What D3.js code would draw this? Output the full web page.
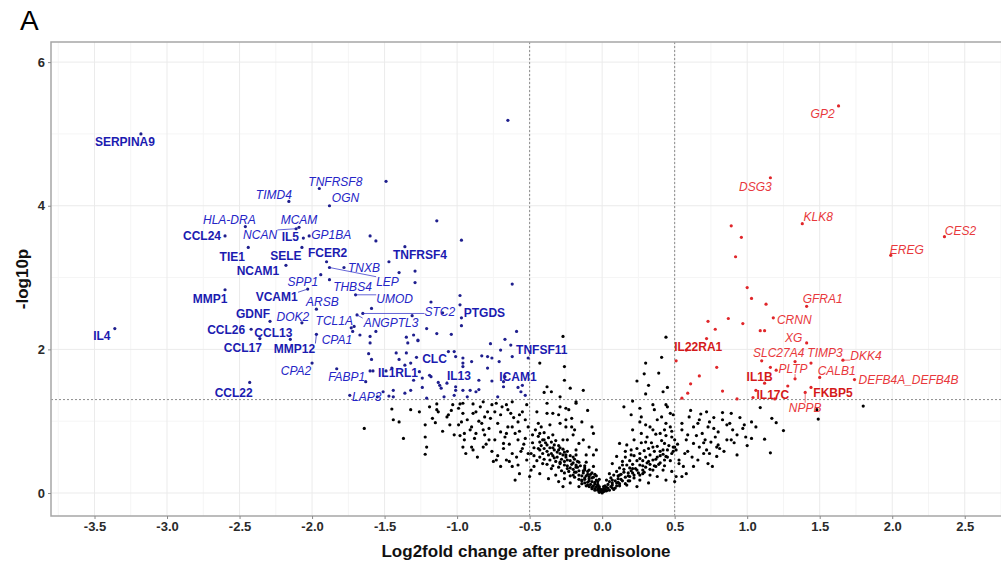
<!DOCTYPE html>
<html lang="en">
<head>
  <meta charset="UTF-8">
  <title>Volcano plot</title>
  <script src="https://d3js.org/d3.v7.min.js"></script>
  <style>
    html, body {
      margin: 0;
      padding: 0;
      background: #fff;
    }
    body {
      font-family: "Liberation Sans", Arial, sans-serif;
    }
    svg { display: block; }
    .grid-major line { stroke: #ebebeb; stroke-width: 1; }
    .grid-minor line { stroke: #f5f5f5; stroke-width: 1; }
    .axis path { display: none; }
    .axis line { stroke: #8a8a8a; }
    .axis text {
      font: bold 13px "Liberation Sans", Arial, sans-serif;
      fill: #2a2a2a;
    }
    .thresh {
      stroke: #8c8c8c;
      stroke-width: 1;
      stroke-dasharray: 2,2;
      fill: none;
    }
    .gene-label { font-size: 12px; }
    .title { font: bold 17px "Liberation Sans", Arial, sans-serif; fill: #111; }
  </style>
</head>
<body>
  <svg id="chart" width="1001" height="567"></svg>
  <script>
    // Labelled down-regulated genes (blue)
    const downGenes = ["SERPINA9","TNFRSF8","TIMD4","OGN","HLA-DRA","MCAM","NCAN","CCL24","IL5","GP1BA",
      "TIE1","SELE","FCER2","TNXB","LEP","TNFRSF4","NCAM1","SPP1","THBS4","VCAM1",
      "ARSB","UMOD","MMP1","IL4","GDNF","DOK2","TCL1A","ANGPTL3","STC2","CCL26",
      "CCL13","CCL17","MMP12","CPA1","CPA2","CCL22","FABP1","IL1RL1","LAP3","CLC",
      "IL13","PTGDS","ICAM1","TNFSF11"];
    const downFC = [-3.18,-1.95,-2.16,-1.88,-2.46,-2.09,-2.11,-2.60,-2.06,-2.02,
      -2.44,-2.07,-1.90,-1.78,-1.88,-1.47,-2.18,-1.94,-1.88,-2.03,
      -1.97,-1.70,-2.60,-3.36,-2.29,-2.07,-1.73,-1.69,-1.65,-2.42,
      -2.15,-2.36,-1.97,-1.67,-2.00,-2.43,-1.83,-1.58,-1.74,-1.28,
      -1.07,-0.97,-0.76,-0.63];
    const downLogP = [5.00,4.24,4.06,4.00,3.71,3.70,3.68,3.58,3.55,3.58,
      3.42,3.42,3.22,3.14,3.14,3.22,3.17,3.04,2.97,2.84,
      2.56,2.76,2.83,2.29,2.39,2.37,2.30,2.48,2.50,2.28,
      2.14,2.15,2.21,2.20,1.81,1.54,1.73,1.70,1.36,1.89,
      1.53,2.44,1.56,2.06];

    // Labelled up-regulated genes (red)
    const upGenes = ["GP2","DSG3","KLK8","CES2","EREG","GFRA1","CRNN","XG","SLC27A4","TIMP3",
      "DKK4","PLTP","CALB1","DEFB4A_DEFB4B","IL1B","IL17C","FKBP5","NPPB","IL22RA1"];
    const upFC = [1.63,1.16,1.38,2.36,1.99,1.41,1.18,1.41,1.10,1.44,
      1.66,1.33,1.50,1.74,1.12,1.06,1.44,1.40,0.58];
    const upLogP = [5.39,4.39,3.75,3.57,3.31,2.60,2.44,2.09,1.84,1.81,
      1.85,1.59,1.61,1.58,1.53,1.43,1.47,1.40,1.99];

    // Unlabelled significant genes, [log2fc, -log10p]
    const downOther = [
      [-0.65,5.19],[-1.49,4.34],[-1.14,3.79],[-0.97,3.52],[-1.60,3.58],[-1.56,3.51],[-1.36,3.43],
      [-1.40,3.07],[-1.29,3.09],[-1.29,2.93],[-0.62,2.91],[-0.98,2.75],[-0.98,2.62],[-0.97,2.33],
      [-1.10,2.51],[-1.18,2.66],[-1.31,2.47],[-1.21,2.29],[-1.56,2.25],[-1.60,2.18],[-1.60,2.09],
      [-1.35,2.17],[-1.34,2.09],[-1.27,2.12],[-1.14,2.22],[-1.04,2.21],[-0.77,2.08],[-0.67,2.14],
      [-0.59,2.25],[-0.70,1.99],[-0.83,1.91],[-0.79,1.90],[-0.71,1.83],[-0.96,1.88],[-0.96,1.81],
      [-1.06,1.97],[-1.02,1.97],[-1.61,1.94],[-1.59,1.86],[-1.42,1.95],[-1.40,1.86],[-1.35,1.95],
      [-1.60,1.70],[-1.45,1.74],[-1.30,1.57],[-1.18,1.62],[-1.13,1.54],[-1.01,1.43],[-0.91,1.43],
      [-0.85,1.44],[-0.85,1.57],[-0.67,1.62],[-0.58,1.47],[-0.55,1.50],[-1.55,1.34],[-1.47,1.35],
      [-1.24,1.47],[-1.63,1.55],[-1.49,1.70],[-1.59,2.57],[-1.71,2.32],[-1.72,2.25],[-1.30,2.20],
      [-1.27,2.13],[-0.62,1.90],[-1.36,1.78],[-1.32,1.81],[-1.01,1.90],[-0.96,1.76],[-0.90,1.83],
      [-0.76,1.88],[-0.79,1.74],[-1.26,1.69],[-1.24,1.60],[-1.19,1.64],[-1.12,1.50],[-1.11,1.46],
      [-1.01,1.48],[-0.96,1.43],[-1.36,1.39],[-1.32,1.43],[-1.21,1.32],[-1.09,1.34],[-1.02,1.36],
      [-0.93,1.34],[-0.87,1.41],[-0.72,1.34],[-0.68,1.48],[-0.56,1.41],[-0.53,1.36],[-0.68,1.55],
      [-0.51,1.88],[-1.44,1.43],[-1.44,1.34],[-1.51,1.41]
    ];
    const upOther = [
      [0.89,3.72],[0.96,3.56],[0.92,3.29],[1.00,2.86],[1.03,2.71],[1.13,2.63],[0.73,2.39],
      [0.87,2.43],[0.97,2.36],[0.78,2.28],[1.09,2.26],[1.12,2.26],[0.72,2.15],[0.51,1.84],
      [0.79,1.75],[0.67,1.63],[0.61,1.52],[0.59,1.39],[0.83,1.42],[0.55,1.32],[0.93,1.31],
      [1.04,1.33],[1.19,1.31],[1.16,1.75],[1.28,1.49],[1.33,1.83],[1.20,1.71]
    ];

    // Non-significant genes, [log2fc, -log10p]
    const nsPoints = [
      [-1.64,0.90],[-1.45,1.17],[-1.44,1.02],[-1.40,0.99],[-1.37,0.76],[-1.32,1.16],[-1.26,1.13],
      [-1.22,0.95],[-1.22,0.78],[-1.21,0.64],[-1.22,0.54],[-1.19,1.20],[-1.14,1.16],[-1.07,1.06],
      [-1.03,1.23],[-0.98,1.24],[-0.96,1.11],[-0.99,0.95],[-0.93,1.02],[-0.89,1.11],[-0.84,1.20],
      [-0.79,1.13],[-0.73,1.25],[-0.65,1.16],[-0.62,1.27],[-0.57,1.09],[-0.52,1.23],[-0.95,0.74],
      [-0.90,0.64],[-0.87,0.83],[-0.82,0.88],[-0.78,0.74],[-0.76,0.58],[-0.73,0.46],[-0.68,0.69],
      [-0.66,0.83],[-0.62,0.92],[-0.58,0.74],[-0.56,0.58],[-0.52,0.46],[-0.49,0.32],
      [-1.14,1.24],[-0.96,1.25],[-0.89,1.24],[-0.82,1.27],[-0.76,1.23],[-0.66,1.23],[-1.13,1.13],
      [-1.06,1.09],[-0.99,1.18],[-0.87,1.13],[-0.81,1.06],[-0.74,1.13],[-0.70,1.09],[-0.63,1.11],
      [-0.55,1.13],[-1.17,1.04],[-1.05,0.95],[-0.97,0.99],[-0.90,0.92],[-0.83,0.97],[-0.78,0.90],
      [-0.72,0.97],[-0.65,0.92],[-0.58,0.99],[-0.51,0.92],[-1.02,0.81],[-0.95,0.83],[-0.88,0.76],
      [-0.81,0.81],[-0.74,0.74],[-0.67,0.78],[-0.60,0.83],[-0.53,0.76],[-0.96,0.64],[-0.89,0.60],
      [-0.82,0.64],[-0.68,0.62],[-0.62,0.55],[-0.55,0.62],[-0.75,0.44],[-0.70,0.37],[-0.64,0.44],
      [-0.58,0.39],[-0.60,0.18],[-0.50,0.23],[-0.57,0.27],[-0.62,0.37],[-0.66,0.46],
      [-0.45,1.13],[-0.38,1.11],[-0.30,1.09],[-0.25,1.18],[-0.18,1.25],[-0.44,0.97],[-0.36,0.95],
      [-0.29,0.97],[-0.21,0.92],[-0.14,0.99],[-0.48,0.81],[-0.41,0.74],[-0.34,0.81],[-0.27,0.74],
      [-0.20,0.81],[-0.13,0.74],[-0.06,0.83],[-0.49,0.55],[-0.43,0.60],[-0.37,0.53],[-0.30,0.60],
      [-0.25,0.53],[-0.18,0.60],[-0.11,0.53],[-0.04,0.60],[-0.47,0.37],[-0.41,0.41],[-0.35,0.34],
      [-0.29,0.41],[-0.24,0.34],[-0.18,0.39],[-0.12,0.32],[-0.06,0.37],[-0.43,0.27],[-0.37,0.20],
      [-0.32,0.25],[-0.26,0.20],[-0.20,0.25],[-0.14,0.18],[-0.09,0.23],[-0.03,0.16],[-0.22,0.14],
      [-0.16,0.09],[-0.09,0.09],[-0.02,0.07],[0.03,0.04],
      [-0.40,0.62],[-0.35,0.55],[-0.33,0.49],[-0.29,0.43],[-0.26,0.39],[-0.22,0.35],[-0.19,0.29],
      [-0.16,0.25],[-0.12,0.21],[-0.09,0.17],[-0.05,0.13],[-0.38,0.67],[-0.34,0.63],[-0.31,0.57],
      [-0.27,0.53],[-0.24,0.46],[-0.20,0.42],[-0.17,0.36],[-0.13,0.31],[-0.10,0.26],[-0.07,0.21],
      [-0.03,0.11],[-0.47,0.63],[-0.43,0.71],[-0.40,0.74],[-0.02,0.01],[0.00,0.00],[0.02,0.03],
      [-0.03,0.04],[-0.05,0.06],[-0.07,0.08],[-0.10,0.11],[-0.12,0.14],[-0.14,0.17],
      [-0.33,0.67],[-0.29,0.63],[-0.26,0.57],[-0.22,0.52],[-0.19,0.47],[-0.16,0.43],[-0.12,0.38],
      [-0.09,0.32],[-0.05,0.26],[-0.02,0.19],[-0.04,0.24],[-0.07,0.28],[-0.11,0.43],[-0.18,0.53],
      [-0.30,0.16],[-0.27,0.09],[-0.43,0.83],
      [-0.27,2.18],[-0.26,1.76],[-0.43,1.81],[-0.38,1.48],[-0.35,1.41],[-0.29,1.34],[-0.22,1.46],
      [-0.13,1.43],[-0.26,1.57],[-0.18,1.27],[-0.23,1.16],[-0.21,1.04],[-0.25,0.92],[-0.19,0.88],
      [-0.07,0.92],[-0.16,0.69],[-0.09,0.64],[-0.06,0.53],[-0.24,0.74],[-0.38,1.25],[-0.34,1.11],
      [-0.29,1.20],[-0.25,1.02],
      [0.44,2.17],[0.41,1.89],[0.30,1.81],[0.29,1.66],[0.39,1.67],[0.24,1.56],[0.45,1.47],
      [0.30,1.38],[0.42,1.41],[0.21,1.28],[0.26,1.18],[0.35,1.23],[0.36,1.16],[0.44,1.23],
      [0.41,1.06],[0.47,1.11],[0.26,0.99],[0.21,0.88],[0.33,0.92],[0.38,1.02],[0.43,0.88],
      [0.47,0.92],[0.48,0.78],[0.43,0.69],[0.50,0.74],[0.51,0.60],[0.48,0.55],[0.44,0.51],
      [0.40,0.58],[0.35,0.64],[0.30,0.71],[0.27,0.83],[0.22,0.74],[0.17,0.67],[0.12,0.69],
      [0.16,0.58],[0.20,0.53],[0.26,0.48],[0.32,0.44],[0.37,0.37],[0.42,0.32],[0.48,0.30],
      [0.51,0.23],[0.10,0.51],[0.07,0.41],[0.14,0.39],[0.21,0.34],[0.28,0.32],[0.33,0.25],
      [0.38,0.23],[0.44,0.18],[0.05,0.27],[0.12,0.25],[0.19,0.23],[0.26,0.18],[0.32,0.14],
      [0.03,0.18],[0.10,0.14],[0.17,0.11],[0.24,0.09],[0.01,0.09],[0.07,0.07],
      [0.20,1.09],[0.27,1.06],[0.30,0.95],[0.35,0.88],[0.40,0.83],[0.50,0.64],[0.53,0.41],
      [0.50,0.16],[0.58,0.27],[0.63,0.37],
      [0.05,0.04],[0.09,0.07],[0.12,0.10],[0.16,0.13],[0.19,0.17],[0.22,0.21],[0.26,0.25],
      [0.29,0.29],[0.33,0.33],[0.36,0.38],[0.40,0.42],[0.43,0.46],[0.07,0.11],[0.11,0.15],
      [0.13,0.19],[0.18,0.24],[0.21,0.28],[0.24,0.32],[0.28,0.38],[0.31,0.42],[0.35,0.46],
      [0.38,0.50],[0.42,0.54],[0.45,0.60],[0.49,0.64],[0.52,0.68],[0.03,0.08],[0.07,0.18],
      [0.11,0.24],[0.15,0.29],[0.19,0.35],
      [1.09,1.19],[1.17,1.04],[1.25,0.87],[1.48,1.16],[1.80,1.21],[0.45,1.20],[0.49,1.09],
      [0.60,1.06],[0.67,1.02],[0.74,0.99],[0.83,1.12],[0.89,1.11],[0.88,0.97],[0.97,0.90],
      [0.44,0.97],[0.55,0.97],[0.63,0.92],[0.73,0.92],[0.90,0.88],[0.99,0.78],[0.93,0.81],
      [0.72,1.13],[0.66,0.97],[0.69,0.83],[0.78,0.78],[0.75,0.71],[0.80,0.67],[0.83,1.02],
      [0.89,0.74],[1.03,0.99],[1.03,0.76],[1.16,0.56],[0.59,0.81],[0.58,0.74],[0.63,0.69],
      [0.67,0.64],[0.70,0.55],[0.66,0.46],[0.79,0.51],[0.73,0.41],[0.59,0.58],[0.53,0.46],
      [0.56,0.37],[0.55,0.23],[0.76,0.37],[0.81,0.62],[0.77,0.90],[0.86,0.74],[0.79,0.64],
      [0.72,0.60],[0.71,0.74],[0.93,0.53],[0.98,0.95],[1.49,1.03]
    ];

    // The crowded bottom of the "V"
    const nsDense = [
      [-0.48,0.70],[-0.47,0.52],[-0.46,0.88],[-0.45,0.45],[-0.44,0.62],[-0.44,0.79],[-0.43,0.50],
      [-0.42,0.92],[-0.42,0.66],[-0.41,0.55],[-0.40,0.84],[-0.40,0.47],[-0.39,0.70],[-0.38,0.58],
      [-0.38,0.40],[-0.37,0.77],[-0.36,0.63],[-0.36,0.46],[-0.35,0.71],[-0.34,0.52],[-0.34,0.38],
      [-0.33,0.60],[-0.32,0.44],[-0.32,0.73],[-0.31,0.50],[-0.30,0.36],[-0.30,0.66],[-0.29,0.55],
      [-0.28,0.31],[-0.28,0.47],[-0.27,0.61],[-0.26,0.44],[-0.26,0.28],[-0.25,0.50],[-0.24,0.38],
      [-0.24,0.58],[-0.23,0.30],[-0.22,0.45],[-0.22,0.24],[-0.21,0.40],[-0.20,0.33],[-0.20,0.50],
      [-0.19,0.22],[-0.18,0.36],[-0.18,0.29],[-0.17,0.44],[-0.16,0.19],[-0.16,0.31],[-0.15,0.38],
      [-0.14,0.24],[-0.14,0.13],[-0.13,0.28],[-0.12,0.19],[-0.12,0.35],[-0.11,0.10],[-0.11,0.24],
      [-0.10,0.15],[-0.10,0.30],[-0.09,0.20],[-0.08,0.12],[-0.08,0.26],[-0.07,0.06],[-0.07,0.16],
      [-0.06,0.10],[-0.06,0.22],[-0.05,0.15],[-0.05,0.04],[-0.04,0.09],[-0.04,0.18],[-0.03,0.06],
      [-0.03,0.12],[-0.02,0.03],[-0.02,0.09],[-0.01,0.05],[-0.01,0.02],[0.00,0.04],[0.01,0.02],
      [0.01,0.06],
      [0.02,0.05],[0.02,0.10],[0.03,0.03],[0.04,0.12],[0.04,0.07],[0.05,0.16],[0.06,0.09],
      [0.06,0.21],[0.07,0.14],[0.08,0.05],[0.08,0.25],[0.09,0.17],[0.10,0.10],[0.10,0.30],
      [0.11,0.20],[0.12,0.13],[0.12,0.35],[0.13,0.26],[0.14,0.17],[0.14,0.44],[0.15,0.33],
      [0.16,0.22],[0.16,0.50],[0.17,0.39],[0.18,0.28],[0.18,0.17],[0.19,0.45],[0.20,0.31],
      [0.20,0.60],[0.21,0.40],[0.22,0.25],[0.22,0.52],[0.23,0.34],[0.24,0.45],[0.24,0.62],
      [0.25,0.28],[0.26,0.39],[0.26,0.55],[0.27,0.70],[0.28,0.45],[0.28,0.27],[0.29,0.59],
      [0.30,0.36],[0.30,0.50],[0.31,0.78],[0.32,0.62],[0.33,0.40],[0.33,0.53],[0.34,0.70],
      [0.35,0.32],[0.36,0.58],[0.37,0.47],[0.37,0.82],[0.38,0.65],[0.39,0.40],[0.40,0.52],
      [0.41,0.73],[0.42,0.60],[0.43,0.38],[0.44,0.80],[0.45,0.50],[0.46,0.66],[0.47,0.45],
      [0.48,0.86],[0.49,0.58],
      [-0.98,0.80],[-0.94,0.55],[-0.91,0.88],[-0.86,0.50],[-0.85,1.00],[-0.80,0.68],[-0.77,1.04],
      [-0.72,0.52],[-0.70,0.85],[-0.69,1.20],[-0.64,0.68],[-0.61,1.05],[-0.59,0.50],[-0.57,0.86],
      [-0.54,0.68],[-0.53,1.02],[-0.51,0.55],[-1.10,0.86],[-1.04,1.15],[-1.15,0.98],
      [0.55,0.88],[0.57,0.55],[0.61,1.15],[0.62,0.50],[0.65,0.80],[0.68,1.10],[0.70,0.70],
      [0.74,0.55],[0.77,1.05],[0.80,0.85],[0.84,0.58],[0.86,0.95],[0.91,0.70],[0.95,1.05],
      [1.00,0.66],[1.06,0.92],[1.12,0.75],[1.20,0.98],
      [0.32,1.50],[0.15,1.20],[-0.10,1.15],[-0.40,1.40]
    ];

    // Label layout (pixel nudges from the point to the label centre)
    const labelNudge = {
      SERPINA9:[-16,8], TNFRSF8:[16,-7], TIMD4:[-15,-7], OGN:[16,-8], "HLA-DRA":[-16,-7],
      MCAM:[0,-7], NCAN:[-36,6], CCL24:[-23,0], IL5:[-13,-1], GP1BA:[22,-1],
      TIE1:[-16,9], SELE:[-16,8], FCER2:[1,-9], TNXB:[20,0], LEP:[58,14],
      TNFRSF4:[31,-7], NCAM1:[-28,5], SPP1:[-18,7], THBS4:[23,7], VCAM1:[-31,8],
      ARSB:[6,-7], UMOD:[39,4], MMP1:[-15,9], IL4:[-13,7], GDNF:[-17,-8],
      DOK2:[-9,-6], TCL1A:[-17,-7], ANGPTL3:[34,8], STC2:[77,-2], CCL26:[-25,1],
      CCL13:[-17,-7], CCL17:[-17,9], MMP12:[-22,14], CPA1:[-23,5], CPA2:[-16,8],
      CCL22:[-16,10], FABP1:[10,8], IL1RL1:[25,2], LAP3:[17,1], CLC:[18,2],
      IL13:[12,-7], PTGDS:[23,-5], ICAM1:[26,-4], TNFSF11:[31,5],
      GP2:[-16,8], DSG3:[-15,9], KLK8:[16,-7], CES2:[16,-6], EREG:[16,-6],
      GFRA1:[16,-7], CRNN:[21,2], XG:[-13,-5], SLC27A4:[17,-8], TIMP3:[14,-10],
      DKK4:[23,-4], PLTP:[-2,-10], CALB1:[17,-7], DEFB4A_DEFB4B:[54,0], IL1B:[-5,-6],
      IL17C:[17,4], FKBP5:[22,5], NPPB:[0,15], IL22RA1:[12,-3]
    };
    const boldLabels = ["SERPINA9","CCL24","IL5","TIE1","SELE","FCER2","TNFRSF4","NCAM1","MMP1",
      "VCAM1","IL4","GDNF","CCL26","CCL13","CCL17","MMP12","CCL22","IL1RL1","CLC","IL13",
      "PTGDS","ICAM1","TNFSF11","IL22RA1","IL1B","IL17C","FKBP5"];
    const segmentLabels = ["NCAN","LEP","UMOD","ANGPTL3","STC2","MMP12","VCAM1","DKK4","PLTP","NPPB","IL13"];

    const xTicks = [-3.5,-3.0,-2.5,-2.0,-1.5,-1.0,-0.5,0.0,0.5,1.0,1.5,2.0,2.5];
    const yTicks = [0,2,4,6];
    const fcCut = 0.5;
    const pCut = -Math.log10(0.05);

    const colors = {
      downDot: "#1f1f8e", downLabel: "#2525c6", downBold: "#1b1bb0",
      upDot: "#e0262a", upLabel: "#e8383c", upBold: "#d41a1a", ns: "#000"
    };

    const svg = d3.select("#chart");
    const x = d3.scaleLinear().domain([-3.8, 2.75]).range([51, 1001]);
    const y = d3.scaleLinear().domain([-0.32, 6.28]).range([516, 42]);
    const [x0, x1] = x.range();
    const [y1, y0] = y.range();

    // Grid
    const xMinor = xTicks.map(t => t - 0.25).concat([2.75]);
    const yMinor = [1, 3, 5];
    const grid = svg.append("g");
    grid.append("g").attr("class", "grid-minor").selectAll("line")
      .data(xMinor).join("line")
      .attr("x1", d => x(d)).attr("x2", d => x(d)).attr("y1", y0).attr("y2", y1);
    grid.append("g").attr("class", "grid-minor").selectAll("line")
      .data(yMinor).join("line")
      .attr("x1", x0).attr("x2", x1).attr("y1", d => y(d)).attr("y2", d => y(d));
    grid.append("g").attr("class", "grid-major").selectAll("line")
      .data(xTicks).join("line")
      .attr("x1", d => x(d)).attr("x2", d => x(d)).attr("y1", y0).attr("y2", y1);
    grid.append("g").attr("class", "grid-major").selectAll("line")
      .data(yTicks).join("line")
      .attr("x1", x0).attr("x2", x1).attr("y1", d => y(d)).attr("y2", d => y(d));

    // Threshold lines
    svg.append("line").attr("class", "thresh")
      .attr("x1", x(-fcCut)).attr("x2", x(-fcCut)).attr("y1", y0).attr("y2", y1);
    svg.append("line").attr("class", "thresh")
      .attr("x1", x(fcCut)).attr("x2", x(fcCut)).attr("y1", y0).attr("y2", y1);
    svg.append("line").attr("class", "thresh")
      .attr("x1", x0).attr("x2", x1).attr("y1", y(pCut)).attr("y2", y(pCut));

    // Points
    const pts = svg.append("g");
    pts.selectAll("circle.ns").data(nsPoints.concat(nsDense)).join("circle")
      .attr("class", "ns")
      .attr("cx", d => x(d[0])).attr("cy", d => y(d[1])).attr("r", 1.6)
      .attr("fill", colors.ns);

    const downAll = downOther.concat(downFC.map((f, i) => [f, downLogP[i]]));
    const upAll = upOther.concat(upFC.map((f, i) => [f, upLogP[i]]));
    pts.selectAll("circle.down").data(downAll).join("circle")
      .attr("class", "down")
      .attr("cx", d => x(d[0])).attr("cy", d => y(d[1])).attr("r", 1.6)
      .attr("fill", colors.downDot);
    pts.selectAll("circle.up").data(upAll).join("circle")
      .attr("class", "up")
      .attr("cx", d => x(d[0])).attr("cy", d => y(d[1])).attr("r", 1.6)
      .attr("fill", colors.upDot);

    // Labels
    const labelData = downGenes.map((g, i) => ({ gene: g, fc: downFC[i], p: downLogP[i], dir: "down" }))
      .concat(upGenes.map((g, i) => ({ gene: g, fc: upFC[i], p: upLogP[i], dir: "up" })));

    const segG = svg.append("g");
    const labG = svg.append("g");
    const labelColor = d => {
      const bold = boldLabels.includes(d.gene);
      if (d.dir === "down") return bold ? colors.downBold : colors.downLabel;
      return bold ? colors.upBold : colors.upLabel;
    };

    const labels = labG.selectAll("text").data(labelData).join("text")
      .attr("class", "gene-label")
      .attr("x", d => x(d.fc) + labelNudge[d.gene][0])
      .attr("y", d => y(d.p) + labelNudge[d.gene][1])
      .attr("dy", "0.35em")
      .attr("text-anchor", "middle")
      .style("font-weight", d => boldLabels.includes(d.gene) ? "bold" : "normal")
      .style("font-style", d => boldLabels.includes(d.gene) ? "normal" : "italic")
      .attr("fill", labelColor)
      .text(d => d.gene);

    // Leader segments from point to the nearest edge of the label
    labels.filter(d => segmentLabels.includes(d.gene)).each(function(d) {
      const bb = this.getBBox();
      const px = x(d.fc), py = y(d.p);
      const tx = Math.max(bb.x, Math.min(px, bb.x + bb.width));
      const ty = Math.max(bb.y + 2, Math.min(py, bb.y + bb.height - 2));
      segG.append("line")
        .attr("x1", px).attr("y1", py).attr("x2", tx).attr("y2", ty)
        .attr("stroke", labelColor(d)).attr("stroke-opacity", 0.7).attr("stroke-width", 1);
    });

    // Panel border
    svg.append("rect")
      .attr("x", x0).attr("y", y0).attr("width", x1 - x0 + 10).attr("height", y1 - y0)
      .attr("fill", "none").attr("stroke", "#a6a6a6").attr("stroke-width", 1.5);

    // Axes
    svg.append("g").attr("class", "axis")
      .attr("transform", `translate(0,${y1})`)
      .call(d3.axisBottom(x).tickValues(xTicks).tickSize(3).tickPadding(3)
        .tickFormat(d => d.toFixed(1)));
    svg.append("g").attr("class", "axis")
      .attr("transform", `translate(${x0},0)`)
      .call(d3.axisLeft(y).tickValues(yTicks).tickSize(3).tickPadding(3)
        .tickFormat(d => String(d)));

    // Titles
    svg.append("text").attr("class", "title")
      .attr("x", (x0 + x1) / 2).attr("y", 557)
      .attr("text-anchor", "middle")
      .text("Log2fold change after prednisolone");
    svg.append("text").attr("class", "title")
      .attr("transform", `translate(28,${(y0 + y1) / 2}) rotate(-90)`)
      .attr("text-anchor", "middle")
      .text("-log10p");
    svg.append("text")
      .attr("x", 20).attr("y", 30)
      .style("font", "28px 'Liberation Sans', Arial, sans-serif")
      .attr("fill", "#000")
      .text("A");
  </script>
</body>
</html>
